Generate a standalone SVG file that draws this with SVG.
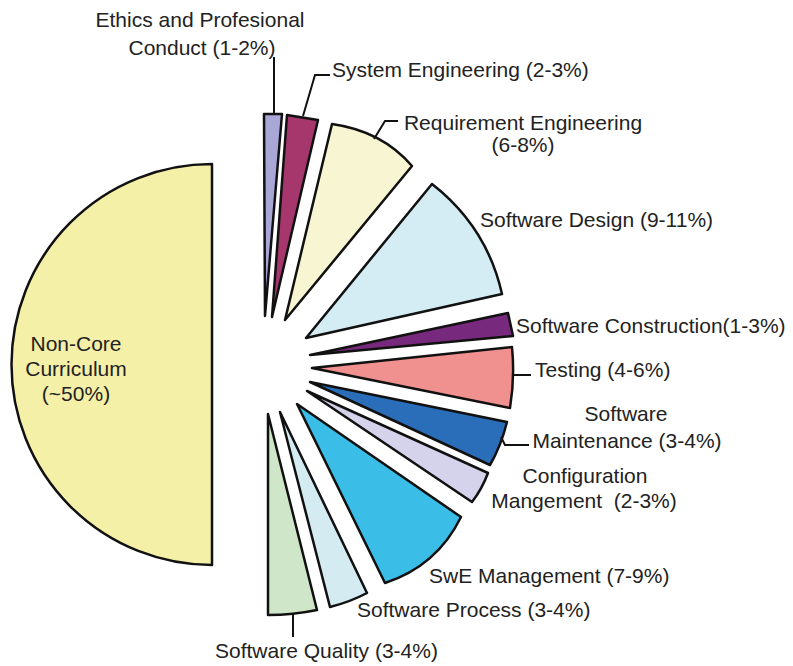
<svg xmlns="http://www.w3.org/2000/svg" width="793" height="666" viewBox="0 0 793 666">
<style>
.s{stroke:#111;stroke-width:2.5;stroke-linejoin:round}
.t{font-family:"Liberation Sans",Arial,sans-serif;font-size:21px;fill:#222}
.m{text-anchor:middle}
.l{fill:none;stroke:#111;stroke-width:2}
</style>
<rect width="793" height="666" fill="#ffffff"/>
<g id="noncore">
<path class="s" fill="#f5f0a8" d="M212,164 A200,200 0 0 0 212,565 Z"/>
<text class="t m" x="76" y="351">Non-Core</text>
<text class="t m" x="76" y="376">Curriculum</text>
<text class="t m" x="76" y="401">(~50%)</text>
</g>
<g id="ethics">
<path class="s" fill="#a9a6d8" d="M265,316 L264,114 L282,114 Z"/>
<text class="t m" x="200" y="27">Ethics and Profesional</text>
<text class="t m" x="202" y="55">Conduct (1-2%)</text>
</g>
<g id="system">
<path class="s" fill="#a6376c" d="M272,317 L287,115 L318,120 Z"/>
<text class="t" x="332" y="77">System Engineering (2-3%)</text>
</g>
<g id="requirement">
<path class="s" fill="#f8f6d2" d="M285,320 L332,124 Q382,131 412,166 Z"/>
<text class="t m" x="523" y="130">Requirement Engineering</text>
<text class="t m" x="523" y="152">(6-8%)</text>
</g>
<g id="design">
<path class="s" fill="#d4ecf3" d="M306,338 L432,184 Q487,227 502,294 Z"/>
<text class="t" x="480" y="227">Software Design (9-11%)</text>
</g>
<g id="construction">
<path class="s" fill="#77297d" d="M310,355 L508,313 L513,336 Z"/>
<text class="t" x="516" y="333">Software Construction(1-3%)</text>
</g>
<g id="testing">
<path class="s" fill="#f1918f" d="M312,368 L512,347 Q515,378 510,408 Z"/>
<text class="t" x="535" y="377">Testing (4-6%)</text>
</g>
<g id="maintenance">
<path class="s" fill="#2a6db8" d="M310,382 L507,422 Q501,446 490,465 Z"/>
<text class="t m" x="626" y="421">Software</text>
<text class="t m" x="627" y="448">Maintenance (3-4%)</text>
</g>
<g id="configuration">
<path class="s" fill="#d5d3ec" d="M307,391 L488,473 Q482,489 472,502 Z"/>
<text class="t m" x="585" y="483">Configuration</text>
<text class="t m" x="584" y="508" xml:space="preserve">Mangement  (2-3%)</text>
</g>
<g id="swe-management">
<path class="s" fill="#3abde7" d="M297,404 L461,517 Q437,566 385,583 Z"/>
<text class="t" x="429" y="583">SwE Management (7-9%)</text>
</g>
<g id="process">
<path class="s" fill="#d4ebf2" d="M280,412 L367,593 Q350,602 330,607 Z"/>
<text class="t" x="357" y="617">Software Process (3-4%)</text>
</g>
<g id="quality">
<path class="s" fill="#d0e6c8" d="M268,414 L317,610 Q293,615 268,615 Z"/>
<text class="t" x="215" y="658">Software Quality (3-4%)</text>
</g>
<g id="connectors">
<path class="l" d="M274,57 V114"/>
<path class="l" d="M330,75 H315 L303,116"/>
<path class="l" d="M398,121 H385 L374,139"/>
<path class="l" d="M512,375 H531"/>
<path class="l" d="M501,437 L505,445 H529"/>
<path class="l" d="M293,614 V637"/>
</g>
</svg>
